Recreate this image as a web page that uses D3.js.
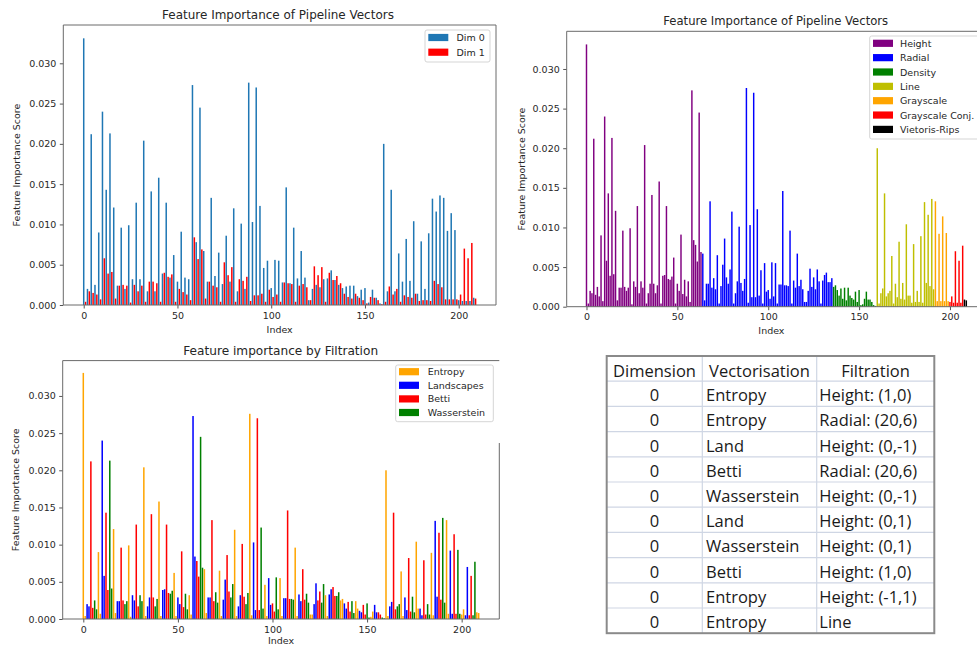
<!DOCTYPE html>
<html>
<head>
<meta charset="utf-8">
<script src="https://cdn.jsdelivr.net/npm/d3@7"></script>
<style>
  body { margin: 0; background: #fff; }
</style>
</head>
<body>
<svg id="fig" width="977" height="645"></svg>
<script>
// feature importance score per pipeline vector (index 0..209)
var scores = [
  0.0331, 0.0004, 0.0020, 0.0017, 0.0212, 0.0015, 0.0025, 0.0013, 0.0090, 0.0007,
  0.0240, 0.0058, 0.0143, 0.0039, 0.0213, 0.0041, 0.0121, 0.0008, 0.0024, 0.0024,
  0.0096, 0.0025, 0.0020, 0.0024, 0.0099, 0.0003, 0.0032, 0.0025, 0.0127, 0.0017,
  0.0032, 0.0024, 0.0204, 0.0004, 0.0017, 0.0029, 0.0141, 0.0029, 0.0017, 0.0027,
  0.0158, 0.0004, 0.0039, 0.0040, 0.0127, 0.0035, 0.0034, 0.0038, 0.0062, 0.0004,
  0.0029, 0.0020, 0.0091, 0.0016, 0.0034, 0.0013, 0.0032, 0.0006, 0.0273, 0.0084,
  0.0078, 0.0057, 0.0245, 0.0069, 0.0067, 0.0008, 0.0029, 0.0029, 0.0133, 0.0024,
  0.0036, 0.0022, 0.0065, 0.0004, 0.0026, 0.0053, 0.0086, 0.0037, 0.0029, 0.0047,
  0.0120, 0.0004, 0.0017, 0.0032, 0.0101, 0.0030, 0.0020, 0.0035, 0.0276, 0.0005,
  0.0103, 0.0012, 0.0270, 0.0012, 0.0123, 0.0014, 0.0046, 0.0004, 0.0055, 0.0019,
  0.0021, 0.0010, 0.0056, 0.0013, 0.0055, 0.0004, 0.0028, 0.0028, 0.0146, 0.0027,
  0.0027, 0.0026, 0.0096, 0.0004, 0.0033, 0.0024, 0.0067, 0.0026, 0.0034, 0.0022,
  0.0006, 0.0006, 0.0020, 0.0048, 0.0025, 0.0037, 0.0022, 0.0047, 0.0032, 0.0004,
  0.0033, 0.0040, 0.0043, 0.0031, 0.0031, 0.0036, 0.0025, 0.0027, 0.0021, 0.0014,
  0.0023, 0.0010, 0.0024, 0.0008, 0.0024, 0.0014, 0.0011, 0.0009, 0.0019, 0.0006,
  0.0021, 0.0002, 0.0003, 0.0010, 0.0019, 0.0009, 0.0009, 0.0006, 0.0002, 0.0001,
  0.0200, 0.0004, 0.0017, 0.0023, 0.0143, 0.0013, 0.0017, 0.0020, 0.0064, 0.0004,
  0.0029, 0.0012, 0.0082, 0.0010, 0.0030, 0.0009, 0.0104, 0.0014, 0.0014, 0.0005,
  0.0079, 0.0006, 0.0020, 0.0006, 0.0089, 0.0005, 0.0132, 0.0030, 0.0116, 0.0026,
  0.0136, 0.0022, 0.0133, 0.0007, 0.0092, 0.0007, 0.0114, 0.0007, 0.0093, 0.0007,
  0.0006, 0.0013, 0.0005, 0.0070, 0.0005, 0.0058, 0.0005, 0.0077, 0.0009, 0.0008
];

// categories
var dimNames = ["Dim 0", "Dim 1"];
var dimPattern = [0, 1];                     // dims alternate inside each vectorisation
var dimColors = ["#1f77b4", "#ff0000"];

var filtrationNames  = ["Height", "Radial", "Density", "Line", "Grayscale", "Grayscale Conj.", "Vietoris-Rips"];
var filtrationCounts = [64, 72, 24, 32, 8, 8, 2];
var filtrationColors = ["#800080", "#0000ff", "#008000", "#bfbf00", "#ffa500", "#ff0000", "#000000"];

var vectNames   = ["Entropy", "Landscapes", "Betti", "Wasserstein"];
var vectPattern = [0, 0, 1, 1, 2, 2, 3, 3];   // 8 features per filtration
var vectColors  = ["#ffa500", "#0000ff", "#ff0000", "#008000"];

var yTicks = [0, 0.005, 0.010, 0.015, 0.020, 0.025, 0.030];
var xTicks = [0, 50, 100, 150, 200];

// top-10 table
var tableHead = ["Dimension", "Vectorisation", "Filtration"];
var tableDim  = ["0", "0", "0", "0", "0", "0", "0", "0", "0", "0"];
var tableVect = ["Entropy", "Entropy", "Land", "Betti", "Wasserstein", "Land", "Wasserstein", "Betti", "Entropy", "Entropy"];
var tableFilt = ["Height: (1,0)", "Radial: (20,6)", "Height: (0,-1)", "Radial: (20,6)", "Height: (0,-1)",
                 "Height: (0,1)", "Height: (0,1)", "Height: (1,0)", "Height: (-1,1)", "Line"];

// filtration of each index, from block sizes
var filtOf = [];
filtrationCounts.forEach(function(n, k) { for (var j = 0; j < n; j++) filtOf.push(k); });

var svg = d3.select("#fig");
var FONT = "'DejaVu Sans', 'Liberation Sans', sans-serif";
var TEXT = "#262626";

// size a font so a string takes the width it has in the picture
function fitSize(str, target) {
  var t = svg.append("text").style("font-family", FONT).attr("font-size", 10).text(str);
  var w = t.node().getComputedTextLength();
  t.remove();
  return w > 0 ? 10 * target / w : 9.4;
}
var small = fitSize("Grayscale Conj.", 74.3);

function label(sel) {
  return sel.style("font-family", FONT).style("fill", TEXT);
}

function panel(p) {
  var g = svg.append("g");
  var n = scores.length;
  var pad = (n - 1 + 0.8) * 0.05;
  var x = d3.scaleLinear().domain([-0.4 - pad, n - 1 + 0.4 + pad]).range([p.left, p.right]);
  var y = d3.scaleLinear().domain([0, d3.max(scores) * 1.05]).range([p.bottom, p.top]);

  g.append("g").selectAll("rect").data(scores).join("rect")
    .attr("x", function(d, i) { return x(i - 0.4); })
    .attr("width", x(0.8) - x(0))
    .attr("y", function(d) { return y(d); })
    .attr("height", function(d) { return y(0) - y(d); })
    .attr("fill", function(d, i) { return p.color(i); });

  var ya = g.append("g").attr("transform", "translate(" + p.left + ",0)")
    .call(d3.axisLeft(y).tickValues(yTicks).tickSize(3.5).tickPadding(3.5).tickFormat(d3.format(".3f")));
  var xa = g.append("g").attr("transform", "translate(0," + p.bottom + ")")
    .call(d3.axisBottom(x).tickValues(xTicks).tickSize(3.5).tickPadding(3.5));
  [ya, xa].forEach(function(a) {
    a.select(".domain").remove();
    a.selectAll("line").attr("stroke", "#555");
    label(a.selectAll("text")).attr("font-size", small);
  });

  // spines
  var sp = g.append("g").attr("stroke", "#6a6a6a").attr("stroke-width", 1).attr("fill", "none");
  sp.append("line").attr("x1", p.left).attr("x2", p.left).attr("y1", p.top).attr("y2", p.bottom);
  sp.append("line").attr("x1", p.left).attr("x2", p.right).attr("y1", p.bottom).attr("y2", p.bottom);
  sp.append("line").attr("x1", p.left).attr("x2", p.right).attr("y1", p.top).attr("y2", p.top);
  sp.append("line").attr("x1", p.right).attr("x2", p.right).attr("y1", p.rightTop || p.top).attr("y2", p.bottom);

  label(g.append("text")).attr("x", p.titleX).attr("y", p.titleY).attr("text-anchor", "middle")
    .attr("font-size", fitSize(p.title, p.titleW)).text(p.title);
  label(g.append("text")).attr("x", (p.left + p.right) / 2 + (p.xlabOff || 0)).attr("y", p.xlabY)
    .attr("text-anchor", "middle").attr("font-size", small).text("Index");
  label(g.append("text")).attr("transform", "translate(" + p.ylabX + "," + ((p.top + p.bottom) / 2) + ") rotate(-90)")
    .attr("text-anchor", "middle").attr("font-size", small).text("Feature Importance Score");

  // legend
  var L = p.legend;
  g.append("rect").attr("x", L.x).attr("y", L.y).attr("width", L.w).attr("height", L.h)
    .attr("rx", 2).attr("fill", "#fff").attr("fill-opacity", 0.8).attr("stroke", "#d5d5d5");
  var items = g.append("g").selectAll("g").data(L.names).join("g")
    .attr("transform", function(d, k) { return "translate(0," + (L.y0 + k * L.dy) + ")"; });
  items.append("rect").attr("x", L.x + 3.3).attr("y", -3.6).attr("width", 20).attr("height", 7.2)
    .attr("fill", function(d, k) { return L.colors[k]; });
  label(items.append("text")).attr("x", L.tx).attr("y", 3.5).attr("font-size", small)
    .text(function(d) { return d; });
}

panel({
  left: 63.3, right: 496, top: 25, bottom: 305,
  title: "Feature Importance of Pipeline Vectors", titleW: 232, titleX: 278, titleY: 19,
  xlabY: 333, ylabX: 20,
  color: function(i) { return dimColors[dimPattern[i % 2]]; },
  legend: { x: 425, y: 30, w: 65, h: 32, y0: 37.5, dy: 14.7, tx: 456.5, names: dimNames, colors: dimColors }
});

panel({
  left: 566.7, right: 986.1, top: 31.3, bottom: 306.7,
  title: "Feature Importance of Pipeline Vectors", titleW: 225, titleX: 775.7, titleY: 24.5,
  xlabY: 334, xlabOff: -5, ylabX: 525,
  color: function(i) { return filtrationColors[filtOf[i]]; },
  legend: { x: 869.7, y: 36, w: 118, h: 103, y0: 43.3, dy: 14.35, tx: 900, names: filtrationNames, colors: filtrationColors }
});

panel({
  left: 62.7, right: 499.3, top: 360.6, bottom: 619, rightTop: 443,
  title: "Feature importance by Filtration", titleW: 195, titleX: 280.7, titleY: 354.5,
  xlabY: 644, ylabX: 18.5,
  color: function(i) { return vectColors[vectPattern[i % 8]]; },
  legend: { x: 395.7, y: 365, w: 97.6, h: 56.7, y0: 371.7, dy: 13.6, tx: 427.7, names: vectNames, colors: vectColors }
});

// table
(function() {
  var t = svg.append("g");
  var x0 = 606.7, x1 = 934.3, y0 = 356, rowH = 25.2;
  var cols = [x0, 702.3, 816.7, x1];
  var nRows = tableDim.length + 1;
  var TF = "'Open Sans', sans-serif";

  t.selectAll("line.h").data(d3.range(1, nRows)).join("line")
    .attr("x1", x0).attr("x2", x1)
    .attr("y1", function(r) { return y0 + r * rowH; }).attr("y2", function(r) { return y0 + r * rowH; })
    .attr("stroke", "#cfd6e4").attr("stroke-width", 1.2);
  t.selectAll("line.v").data([cols[1], cols[2]]).join("line")
    .attr("x1", function(c) { return c; }).attr("x2", function(c) { return c; })
    .attr("y1", y0).attr("y2", y0 + nRows * rowH)
    .attr("stroke", "#cfd6e4").attr("stroke-width", 1.2);
  t.append("rect").attr("x", x0).attr("y", y0).attr("width", x1 - x0).attr("height", nRows * rowH)
    .attr("fill", "none").attr("stroke", "#8a8a8a").attr("stroke-width", 2);

  var txt = t.append("g").attr("font-size", 16.5);
  function cell(xx, yy, s, anchor) {
    txt.append("text").attr("x", xx).attr("y", yy).attr("text-anchor", anchor || "start")
      .style("font-family", TF).style("fill", "#1a1a1a").text(s);
  }
  tableHead.forEach(function(h, c) { cell((cols[c] + cols[c + 1]) / 2, y0 + 20.5, h, "middle"); });
  tableDim.forEach(function(d, r) {
    var yy = y0 + (r + 1) * rowH + 20;
    cell((cols[0] + cols[1]) / 2, yy, d, "middle");
    cell(cols[1] + 3.7, yy, tableVect[r]);
    cell(cols[2] + 2.6, yy, tableFilt[r]);
  });
})();
</script>
</body>
</html>
